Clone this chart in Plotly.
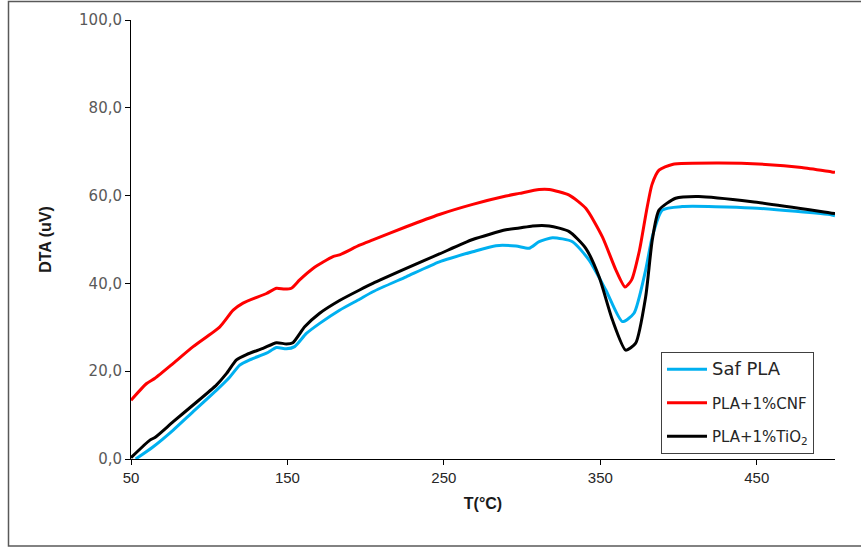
import plotly.graph_objects as go

# Saf PLA (blue)
t_saf = [53.0, 64.2, 77.0, 89.7, 104.7, 113.2, 119.5, 125.9, 136.6, 143.0, 149.3, 154.6, 162.1,
         170.6, 183.3, 196.1, 204.6, 225.9, 247.1, 268.4, 283.3, 296.1, 304.5, 310.9, 319.4,
         332.2, 342.8, 353.5, 364.1, 371.5, 379.0, 383.2, 389.6, 402.3, 447.0, 497.9, 500.0]
d_saf = [0.0, 2.8, 6.6, 10.8, 15.7, 18.7, 21.4, 22.6, 24.1, 25.4, 25.1, 25.6, 28.6,
         30.9, 33.9, 36.4, 38.1, 41.5, 44.9, 47.2, 48.6, 48.5, 48.0, 49.5, 50.4,
         49.5, 45.3, 38.5, 31.3, 33.2, 43.1, 50.6, 56.7, 57.5, 57.2, 55.6, 55.4]

# PLA+1%CNF (red)
t_cnf = [50.0, 60.0, 65.3, 77.0, 89.7, 106.8, 115.3, 121.6, 136.6, 143.0, 148.2, 152.5, 157.8,
         166.3, 179.1, 183.3, 196.1, 204.6, 225.9, 247.1, 268.4, 289.7, 298.2, 310.9, 317.3,
         330.1, 340.7, 351.3, 359.9, 365.8, 370.0, 375.0, 379.5, 383.0, 387.5, 396.0, 425.8,
         455.6, 478.7, 497.9, 500.0]
d_cnf = [13.4, 17.2, 18.4, 21.8, 25.6, 30.1, 33.9, 35.5, 37.7, 38.9, 38.7, 38.9, 40.8,
         43.4, 46.1, 46.5, 48.7, 49.9, 52.9, 55.7, 58.0, 59.9, 60.5, 61.4, 61.4,
         60.1, 57.1, 50.6, 43.1, 39.2, 40.8, 47.5, 56.5, 62.5, 65.8, 67.1, 67.4,
         67.1, 66.4, 65.4, 65.3]

# PLA+1%TiO2 (black)
t_tio = [50.0, 62.1, 65.3, 77.0, 89.7, 104.7, 111.1, 117.4, 123.8, 134.4, 143.0, 149.3, 153.5,
         161.0, 170.6, 183.3, 196.1, 204.6, 225.9, 247.1, 268.4, 289.7, 298.2, 306.7, 317.3,
         330.1, 340.7, 349.2, 357.7, 366.2, 372.6, 379.0, 383.2, 387.5, 398.1, 412.9, 447.0,
         497.9, 500.0]
d_tio = [0.3, 4.3, 4.9, 8.5, 12.3, 16.9, 19.5, 22.6, 23.8, 25.2, 26.5, 26.2, 26.5,
         30.1, 33.2, 36.1, 38.5, 40.0, 43.4, 46.7, 50.0, 52.2, 52.6, 53.1, 53.1,
         51.8, 48.0, 41.5, 31.7, 24.8, 26.4, 37.0, 49.9, 56.7, 59.4, 59.8, 58.6,
         56.0, 55.9]

x_ticks = [50, 150, 250, 350, 450]
y_ticks = [0, 20, 40, 60, 80, 100]

fig = go.Figure()
fig.add_trace(go.Scatter(x=t_saf, y=d_saf, mode="lines", name='<span style="font-size:18px">Saf PLA</span>',
                         line=dict(color="#00B0F0", width=3, shape="spline", smoothing=0.6),
                         legendgroup="a"))
fig.add_trace(go.Scatter(x=t_cnf, y=d_cnf, mode="lines", name="PLA+1%CNF",
                         line=dict(color="#FF0000", width=3, shape="spline", smoothing=0.6),
                         legendgroup="b"))
fig.add_trace(go.Scatter(x=t_tio, y=d_tio, mode="lines", name="PLA+1%TiO<sub>2</sub>",
                         line=dict(color="#000000", width=3, shape="spline", smoothing=0.6),
                         legendgroup="c"))

L, R, T, B = 131, 835, 20, 459
W, H = 861, 549
pw, ph = R - L, B - T

fig.update_layout(
    width=W, height=H,
    margin=dict(l=L, r=W - R, t=T, b=H - B, pad=0),
    paper_bgcolor="white", plot_bgcolor="white",
    separators=", ",
    font=dict(family="DejaVu Sans", color="#404040"),
    showlegend=True,
    legend=dict(
        x=(661 - L) / pw, y=(B - 352) / ph, xanchor="left", yanchor="top",
        bgcolor="white", bordercolor="#404040", borderwidth=1,
        font=dict(family="DejaVu Sans", size=15, color="#262626"),
        traceorder="grouped", tracegroupgap=11, itemwidth=40,
    ),
    xaxis=dict(
        range=[50, 500], tickvals=x_ticks, ticktext=[str(v) for v in x_ticks],
        showgrid=False, zeroline=False, showline=True, linecolor="black", linewidth=1,
        ticks="outside", ticklen=5, tickcolor="black",
        tickfont=dict(family="Liberation Sans", size=15, color="#262626"),
        title=dict(text="<b>T(°C)</b>", font=dict(family="Liberation Sans", size=16, color="#1a1a1a"),
                   standoff=12),
    ),
    yaxis=dict(
        range=[0, 100], tickvals=y_ticks, tickformat=".1f",
        showgrid=False, zeroline=False, showline=True, linecolor="black", linewidth=1,
        ticks="outside", ticklen=5, tickcolor="black",
        tickfont=dict(family="DejaVu Sans", size=15, color="#595959"),
        title=dict(text="<b>DTA (uV)</b>", font=dict(family="Liberation Sans", size=16, color="#1a1a1a"),
                   standoff=23),
    ),
    shapes=[dict(type="rect", xref="paper", yref="paper",
                 x0=(8.5 - L) / pw, x1=(880 - L) / pw, y0=(B - 546) / ph, y1=(B - 1.5) / ph,
                 line=dict(color="#595959", width=1.5), fillcolor="rgba(0,0,0,0)", layer="below")],
)

fig.write_html("out.html", config={"displayModeBar": False},
               post_script="document.body.style.margin='0px';")
